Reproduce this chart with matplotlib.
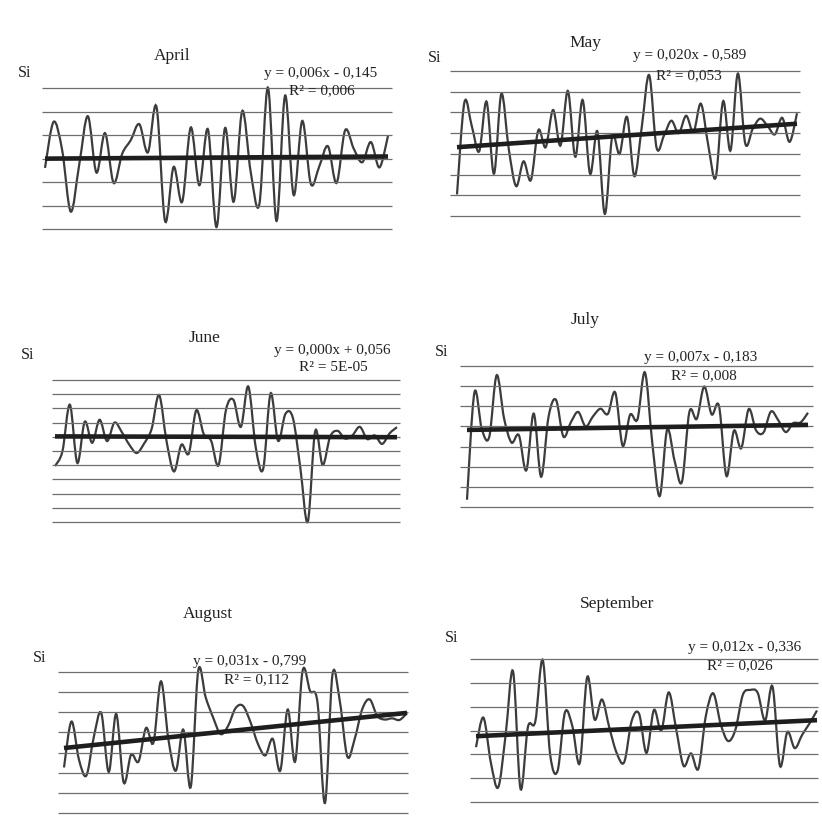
import numpy as np
import matplotlib.pyplot as plt
from matplotlib.path import Path
from matplotlib.patches import PathPatch

W, H = 822, 819

months = ['April', 'May', 'June', 'July', 'August', 'September']

april = [-0.2, 0.78, 0.18, -1.13, -0.12, 0.9, -0.3, 0.54, -0.52, 0.1, 0.39, 0.73, 0.13, 1.1,
         -1.33, -0.18, -0.92, 0.66, -0.57, 0.62, -1.46, 0.65, -0.92, 1.01, -0.3, -0.97, 1.51,
         -1.33, 1.34, -0.78, 0.8, -0.54, -0.16, 0.26, -0.52, 0.6, 0.21, -0.08, 0.35, -0.19, 0.48]
may = [-0.98, 1.24, 0.67, 0.06, 1.26, -0.48, 1.45, 0.12, -0.78, -0.18, -0.63, 0.57, 0.16, 1.06,
       0.2, 1.52, -0.07, 1.3, -0.48, 0.54, -1.45, 0.42, 0.0, 0.89, -0.54, 0.65, 1.9, 0.15, 0.44,
       0.8, 0.5, 0.92, 0.53, 1.21, 0.2, -0.57, 1.27, 0.08, 1.94, 0.25, 0.6, 0.85, 0.68, 0.47,
       0.87, 0.29, 0.98]
june = [-1.03, -0.51, 1.13, -0.92, 0.53, -0.21, 0.6, -0.15, 0.5, 0.16, -0.28, -0.57, -0.23, 0.28,
        1.47, -0.15, -1.22, -0.28, -0.58, 0.93, 0.1, -0.14, -1.0, 0.95, 1.3, 0.35, 1.77, -0.37,
        -1.13, 1.53, -0.14, 0.81, 0.66, -1.1, -2.99, 0.2, -0.99, 0.0, 0.21, -0.06, 0.05, 0.35,
        -0.08, 0.05, -0.25, 0.12, 0.34]
july = [-1.82, 0.84, -0.07, -0.26, 1.27, 0.2, -0.4, -0.22, -1.09, 0.32, -1.25, 0.24, 0.66, -0.25,
        0.1, 0.36, 0.0, 0.25, 0.44, 0.31, 0.84, -0.48, 0.29, 0.18, 1.34, -0.42, -1.73, -0.08,
        -0.85, -1.37, 0.36, 0.19, 0.99, 0.3, 0.5, -1.23, -0.11, -0.54, 0.43, -0.1, -0.15, 0.37,
        0.15, -0.14, 0.08, 0.1, 0.34]
august = [-0.87, 0.27, -0.67, -1.07, -0.11, 0.48, -0.98, 0.46, -1.24, -0.55, -0.72, 0.11, -0.25,
          1.27, -0.17, -0.95, 0.07, -1.35, 1.53, 0.87, 0.37, -0.04, 0.16, 0.6, 0.66, 0.26, -0.28,
          -0.57, -0.16, -0.95, 0.57, -0.72, 1.53, 1.03, 0.74, -1.75, 1.43, 0.76, -0.6, -0.15,
          0.58, 0.82, 0.41, 0.32, 0.35, 0.31, 0.48]
september = [-0.35, 0.27, -0.67, -1.19, -0.09, 1.24, -1.22, 0.07, 0.19, 1.48, -0.5, -0.85, 0.38,
             0.09, -0.68, 1.12, 0.23, 0.65, 0.05, -0.48, -0.66, 0.2, 0.35, -0.47, 0.43, 0.0, 0.8,
             0.03, -0.74, -0.48, -0.8, 0.3, 0.78, 0.14, -0.22, 0.02, 0.75, 0.85, 0.79, 0.21, 0.92,
             -0.74, -0.03, -0.37, -0.09, 0.15, 0.42]
series = [april, may, june, july, august, september]

equations = ['y = 0,006x - 0,145', 'y = 0,020x - 0,589', 'y = 0,000x + 0,056',
             'y = 0,007x - 0,183', 'y = 0,031x - 0,799', 'y = 0,012x - 0,336']
r_squared = ['R² = 0,006', 'R² = 0,053', 'R² = 5E-05', 'R² = 0,008', 'R² = 0,112', 'R² = 0,026']
grid_low = [-1.5, -1.5, -3.0, -2.0, -2.0, -1.5]
grid_high = [1.5, 2.0, 2.0, 1.5, 1.5, 1.5]

# layout in pixels: grid box (x0, x1, ytop, ybottom), data x span, title, Si, equation, R2
layout = [
    dict(grid=(42, 392, 88, 229), xs=(45, 388), title=(172, 56), si=(25, 73), eq=(321, 74), r2=(322, 91)),
    dict(grid=(450, 800, 71, 216), xs=(457, 797), title=(585, 43), si=(435, 58), eq=(690, 56), r2=(689, 76)),
    dict(grid=(52, 400, 380, 522), xs=(55, 397), title=(205, 338), si=(28, 355), eq=(332, 350), r2=(333, 368)),
    dict(grid=(460, 813, 366, 507), xs=(467, 808), title=(585, 320), si=(442, 352), eq=(701, 357), r2=(704, 376)),
    dict(grid=(58, 408, 672, 813), xs=(64, 407), title=(208, 614), si=(40, 658), eq=(250, 661), r2=(257, 680)),
    dict(grid=(470, 818, 659, 802), xs=(476, 817), title=(617, 604), si=(452, 638), eq=(745, 647), r2=(740, 666)),
]

serif = 'Liberation Serif'
line_col = '#3c3c3c'
grid_col = '#6e6e6e'
text_col = '#222222'


def smooth(x, y):
    # Catmull-Rom spline drawn as cubic Bezier segments (like a smoothed Excel line)
    p = np.column_stack([x, y])
    pe = np.vstack([p[0], p, p[-1]])
    verts = [p[0]]
    codes = [Path.MOVETO]
    for i in range(len(p) - 1):
        p0, p1, p2, p3 = pe[i], pe[i + 1], pe[i + 2], pe[i + 3]
        verts += [p1 + (p2 - p0) / 6.0, p2 - (p3 - p1) / 6.0, p2]
        codes += [Path.CURVE4] * 3
    return Path(verts, codes)


fig = plt.figure(figsize=(W / 100, H / 100), dpi=100)
fig.patch.set_facecolor('white')

for k in range(6):
    lay = layout[k]
    gx0, gx1, gy0, gy1 = lay['grid']
    dx0, dx1 = lay['xs']
    y = np.array(series[k])
    n = len(y)
    x = np.arange(1, n + 1)

    ax = fig.add_axes([gx0 / W, 1 - gy1 / H, (gx1 - gx0) / W, (gy1 - gy0) / H])
    sc = (n - 1) / (dx1 - dx0)
    xl0 = 1 - (dx0 - gx0) * sc
    xl1 = n + (gx1 - dx1) * sc
    ax.set_xlim(xl0, xl1)
    ax.set_ylim(grid_low[k], grid_high[k])
    ax.axis('off')

    levels = np.arange(grid_low[k], grid_high[k] + 0.01, 0.5)
    ax.hlines(levels, xl0, xl1, color=grid_col, lw=0.9, clip_on=False)

    ax.add_patch(PathPatch(smooth(x, y), fill=False, ec=line_col, lw=1.6, clip_on=False))

    coef = np.polyfit(x, y, 1)
    ax.plot([1, n], np.polyval(coef, [1, n]), color='#1e1e1e', lw=3.3,
            solid_capstyle='butt', clip_on=False)

    fig.text(lay['title'][0] / W, 1 - lay['title'][1] / H, months[k], ha='center', va='center',
             fontsize=12.5, family=serif, color=text_col)
    fig.text(lay['si'][0] / W, 1 - lay['si'][1] / H, 'Si', ha='center', va='center',
             fontsize=11.5, family=serif, color=text_col)
    fig.text(lay['eq'][0] / W, 1 - lay['eq'][1] / H, equations[k], ha='center', va='center',
             fontsize=11, family=serif, color=text_col)
    fig.text(lay['r2'][0] / W, 1 - lay['r2'][1] / H, r_squared[k], ha='center', va='center',
             fontsize=11, family=serif, color=text_col)

fig.savefig('out.png', dpi=100, facecolor='white')
